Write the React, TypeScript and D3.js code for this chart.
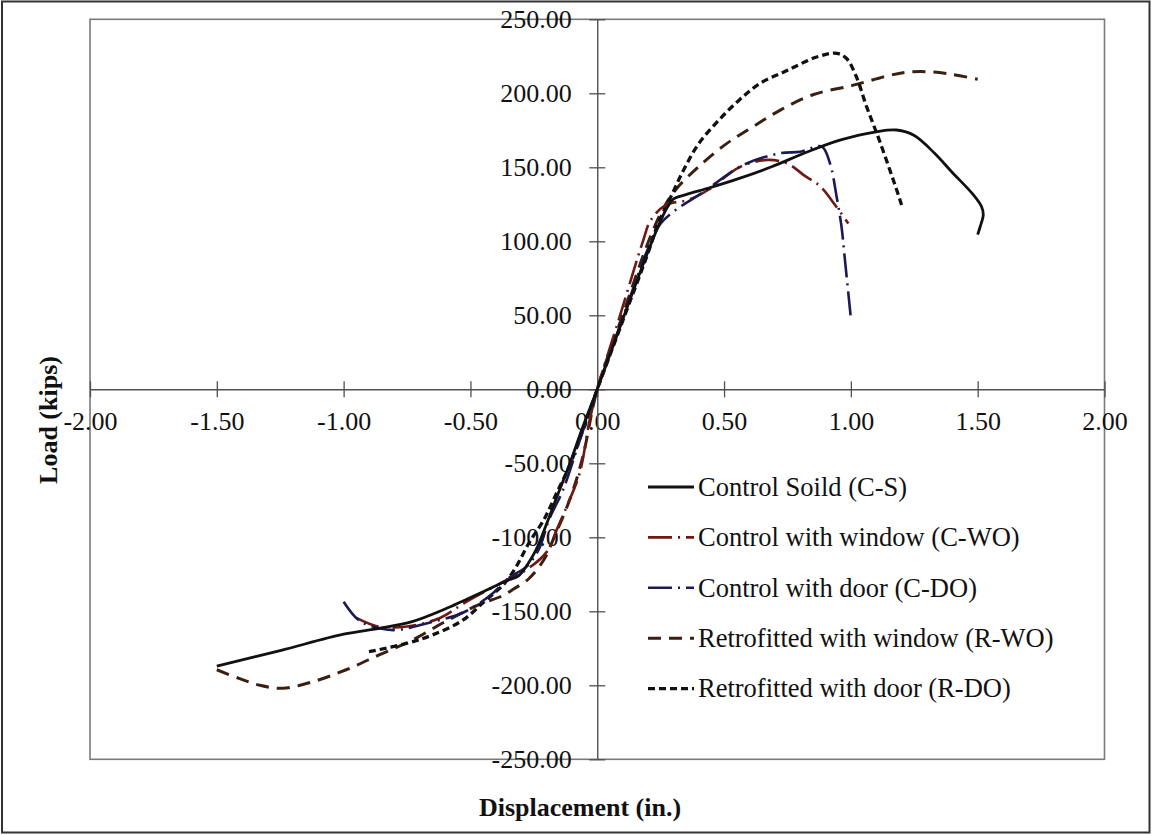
import React, { useEffect, useRef } from 'react';
import * as d3 from 'd3';

// displacement (in.) / load (kips), from the negative end to the positive end
const csDisp = [-1.50, -1.25, -1.0, -0.86, -0.73, -0.6, -0.44, -0.36, -0.31, -0.27, -0.24, -0.2, -0.16, -0.11, -0.056, 0,
  0.1, 0.2, 0.25, 0.28, 0.3, 0.35, 0.44, 0.56, 0.69, 0.83, 0.96, 1.1, 1.18, 1.25, 1.33, 1.4, 1.48, 1.515, 1.522, 1.51, 1.5];
const csLoad = [-187, -176.5, -165.5, -161.5, -157, -148.5, -136, -129.5, -126, -117, -108, -91, -73, -51, -25, 0,
  47, 93, 114, 124, 128.5, 131.5, 136, 142.5, 150.5, 160.5, 168.5, 174, 175.2, 171.5, 159.5, 146.5, 132, 123.5, 118, 110, 104.5];

const cwoDisp = [-0.95, -0.86, -0.75, -0.62, -0.52, -0.37, -0.28, -0.2, -0.16, -0.12, -0.07, -0.03, 0,
  0.09, 0.18, 0.21, 0.27, 0.36, 0.44, 0.56, 0.67, 0.75, 0.82, 0.88, 0.94, 0.99];
const cwoLoad = [-154.5, -160.5, -160.3, -154.5, -144, -130, -122, -110, -95, -79, -57, -21, 0,
  50, 100, 114, 124.5, 128, 135, 150, 155, 152.5, 144, 137, 124, 112];

const cdoDisp = [-1.0, -0.94, -0.86, -0.79, -0.67, -0.53, -0.42, -0.345, -0.28, -0.23, -0.19, -0.135, -0.07, 0,
  0.1, 0.2, 0.25, 0.3, 0.42, 0.575, 0.72, 0.8, 0.885, 0.917, 0.944, 0.963, 0.976, 1.0];
const cdoLoad = [-143.5, -156, -161.5, -162.6, -158, -151, -139, -127, -120, -108, -88, -68, -35, 0,
  48, 95, 112, 120, 133.5, 151.5, 159.5, 160.5, 164, 153, 130, 110, 88.5, 48];

const rwoDisp = [-1.5, -1.41, -1.33, -1.24, -1.12, -0.99, -0.86, -0.73, -0.6, -0.46, -0.38, -0.33, -0.27, -0.21, -0.17, -0.13, -0.095, -0.056, 0,
  0.1, 0.2, 0.26, 0.31, 0.4, 0.51, 0.615, 0.72, 0.85, 1.01, 1.15, 1.22, 1.3, 1.39, 1.5];
const rwoLoad = [-189.5, -195.5, -200, -202, -197.5, -189.5, -179.5, -169.5, -157, -145, -140, -135, -128, -115, -100, -84, -68, -45, 0,
  50, 99, 122, 135, 150.5, 166, 177.5, 188.5, 199, 205.5, 212, 214.2, 214.6, 213, 209.5];

const rdoDisp = [-0.9, -0.75, -0.65, -0.53, -0.44, -0.37, -0.32, -0.27, -0.21, -0.16, -0.11, -0.07, 0,
  0.1, 0.2, 0.24, 0.29, 0.34, 0.4, 0.48, 0.56, 0.64, 0.75, 0.865, 0.944, 0.983, 1.022, 1.062, 1.115, 1.18, 1.2];
const rdoLoad = [-177.3, -171.6, -166, -156, -142.5, -132, -120, -104, -88, -70, -52, -34, 0,
  46, 92, 112, 130, 148, 166, 182, 195.5, 206.5, 215.5, 224.5, 227, 223.5, 211, 191, 167, 135, 124.5];

const seriesNames = ['Control Soild (C-S)', 'Control with window (C-WO)', 'Control with door (C-DO)',
  'Retrofitted with window (R-WO)', 'Retrofitted with door (R-DO)'];
const xTicks = [-2, -1.5, -1, -0.5, 0, 0.5, 1, 1.5, 2];
const yTicks = [-250, -200, -150, -100, -50, 0, 50, 100, 150, 200, 250];

const FONT = '"Liberation Serif", "Times New Roman", serif';

export default function App() {
  const ref = useRef(null);

  useEffect(() => {
    const svg = d3.select(ref.current);
    svg.selectAll('*').remove();

    const left = 90, right = 1104.5, top = 19.3, bottom = 759.3;
    const x = d3.scaleLinear().domain([-2, 2]).range([left, right]);
    const y = d3.scaleLinear().domain([-250, 250]).range([bottom, top]);

    svg.append('rect').attr('width', 1152).attr('height', 835).attr('fill', '#fff');
    // outer frame
    svg.append('rect').attr('x', 2).attr('y', 1.5).attr('width', 1147.5).attr('height', 831)
      .attr('fill', 'none').attr('stroke', '#333').attr('stroke-width', 2);
    // plot box
    svg.append('rect').attr('x', left).attr('y', top).attr('width', right - left).attr('height', bottom - top)
      .attr('fill', 'none').attr('stroke', '#7a7a7a').attr('stroke-width', 1.6);

    // axes crossing at the origin
    const fmt = d => (+d).toFixed(2);
    const gx = svg.append('g').attr('transform', 'translate(0,' + y(0) + ')')
      .call(d3.axisBottom(x).tickValues(xTicks).tickFormat(fmt).tickSizeInner(8).tickSizeOuter(0).tickPadding(14));
    const gy = svg.append('g').attr('transform', 'translate(' + x(0) + ',0)')
      .call(d3.axisLeft(y).tickValues(yTicks).tickFormat(fmt).tickSizeInner(8).tickSizeOuter(0).tickPadding(17.5));
    [gx, gy].forEach(g => {
      g.select('.domain').attr('stroke', '#505050').attr('stroke-width', 1.4);
      g.selectAll('.tick line').attr('stroke', '#505050').attr('stroke-width', 1.3);
      g.selectAll('.tick text').attr('fill', '#111').style('font-family', FONT).style('font-size', '26px');
    });
    gx.selectAll('.tick line').attr('y1', -8).attr('y2', 8);
    gy.selectAll('.tick line').attr('x1', -8).attr('x2', 8);

    // axis titles
    svg.append('text').attr('x', 580).attr('y', 816).attr('text-anchor', 'middle')
      .style('font-family', FONT).style('font-size', '26px').style('font-weight', 'bold').attr('fill', '#111')
      .text('Displacement (in.)');
    svg.append('text').attr('transform', 'translate(57,420) rotate(-90)').attr('text-anchor', 'middle')
      .style('font-family', FONT).style('font-size', '26px').style('font-weight', 'bold').attr('fill', '#111')
      .text('Load (kips)');

    const series = [
      { xs: rwoDisp, ys: rwoLoad, color: '#3a2010', dash: '13,8', w: 3 },
      { xs: rdoDisp, ys: rdoLoad, color: '#111', dash: '7,4', w: 3.3 },
      { xs: cwoDisp, ys: cwoLoad, color: '#6e1a12', dash: '24,6,2,6', w: 2.6 },
      { xs: cdoDisp, ys: cdoLoad, color: '#1c1a55', dash: '24,6,2,6', w: 2.6 },
      { xs: csDisp, ys: csLoad, color: '#111', dash: null, w: 2.8 },
    ];
    const line = d3.line().x(d => x(d[0])).y(d => y(d[1])).curve(d3.curveCatmullRom.alpha(0.5));
    series.forEach(s => {
      const pts = s.xs.map((v, i) => [v, s.ys[i]]);
      svg.append('path').attr('d', line(pts)).attr('fill', 'none')
        .attr('stroke', s.color).attr('stroke-width', s.w)
        .attr('stroke-dasharray', s.dash);
    });

    // legend
    const legendStyle = [series[4], series[2], series[3], series[0], series[1]];
    const lg = svg.append('g');
    seriesNames.forEach((name, i) => {
      const cy = 487 + i * 50.4;
      const st = legendStyle[i];
      lg.append('line').attr('x1', 648).attr('x2', 694).attr('y1', cy).attr('y2', cy)
        .attr('stroke', st.color).attr('stroke-width', st.w).attr('stroke-dasharray', st.dash);
      lg.append('text').attr('x', 698).attr('y', cy).attr('dy', '0.33em')
        .style('font-family', FONT).style('font-size', '26.5px').attr('fill', '#111').text(name);
    });
  }, []);

  return (
    <svg ref={ref} width={1152} height={835} style={{ position: 'absolute', left: 0, top: 0 }} />
  );
}
